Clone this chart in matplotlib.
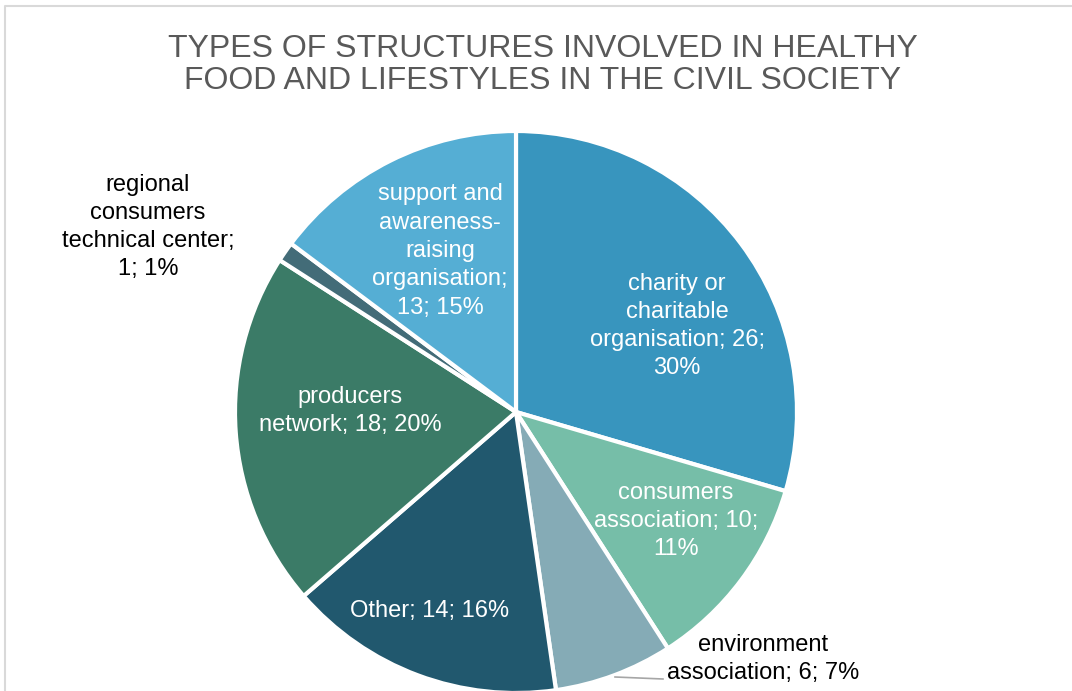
import numpy as np
import matplotlib.pyplot as plt
import matplotlib.patches as mpatches

plt.rcParams['font.family'] = ['Liberation Sans', 'DejaVu Sans']

# data
labels = ['charity or\ncharitable\norganisation; 26;\n30%',
          'consumers\nassociation; 10;\n11%',
          'environment\nassociation; 6; 7%',
          'Other; 14; 16%',
          'producers\nnetwork; 18; 20%',
          'regional\nconsumers\ntechnical center;\n1; 1%',
          'support and\nawareness-\nraising\norganisation;\n13; 15%']
values = [26, 10, 6, 14, 18, 1, 13]
colors = ['#3895BE', '#76BEA8', '#85ABB6', '#21586E', '#3B7B67', '#436C78', '#55AED4']
title = 'TYPES OF STRUCTURES INVOLVED IN HEALTHY\nFOOD AND LIFESTYLES IN THE CIVIL SOCIETY'

W, H = 1072, 691
fig = plt.figure(figsize=(W / 100, H / 100), dpi=100)
ax = fig.add_axes([0, 0, 1, 1])

cx, cy, r = 516, H - 412, 281
wedges, _ = ax.pie(values, colors=colors, startangle=90, counterclock=False,
                   center=(cx, cy), radius=r,
                   wedgeprops=dict(edgecolor='white', linewidth=3))
ax.set_xlim(0, W)
ax.set_ylim(0, H)
ax.set_aspect('equal')
ax.axis('off')

# chart border (only left and top visible)
ax.plot([5, 5, W + 5], [-5, H - 6, H - 6], color='#D9D9D9', lw=1.5, clip_on=False)

# label placements (pixel layout, y measured from top)
pos = [(677, 326), (676, 521), (763, 659), (430, 611), (350, 411), (148, 227), (440, 251)]
txt_col = ['white', 'white', 'black', 'white', 'white', 'black', 'white']
for lab, (x, y), c in zip(labels, pos, txt_col):
    ax.text(x, H - y, lab, ha='center', va='center', fontsize=17, color=c,
            linespacing=1.37)

# leader line for environment label
ax.plot([615, 663], [H - 677, H - 679], color='#A6A6A6', lw=1.2)

ax.text(543, H - 65, title, ha='center', va='center', fontsize=23,
        color='#595959', linespacing=1.13)

fig.savefig('out.png', dpi=100)
